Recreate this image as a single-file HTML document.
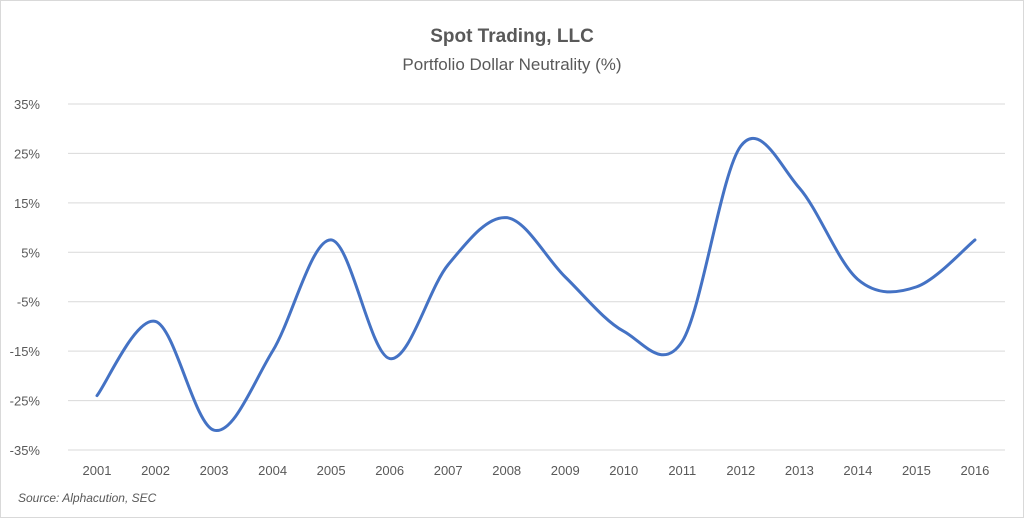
<!DOCTYPE html>
<html><head><style>
body{margin:0;background:#fff;}
svg{display:block;font-family:"Liberation Sans",sans-serif;}
</style></head><body>
<svg id="s" width="1024" height="519" viewBox="0 0 1024 519">
<rect x="0.5" y="0.5" width="1023" height="517" fill="#fff" stroke="#d9d9d9"/>
<text x="512" y="42" text-anchor="middle" font-size="19" font-weight="bold" fill="#595959">Spot Trading, LLC</text>
<text x="512" y="70" text-anchor="middle" font-size="17" fill="#595959">Portfolio Dollar Neutrality (%)</text>
<g id="grid" stroke="#d9d9d9" stroke-width="1"></g>
<g id="yl" font-size="13" fill="#595959" text-anchor="end"></g>
<g id="xl" font-size="13" fill="#595959" text-anchor="middle"></g>
<path id="ln" fill="none" stroke="#4472C4" stroke-width="3" stroke-linejoin="round" stroke-linecap="round"/>
<text x="18" y="502" font-size="12" font-style="italic" fill="#595959">Source: Alphacution, SEC</text>
</svg>
<script>
var ns="http://www.w3.org/2000/svg";
function y(v){return 450-(v+35)*49.43/10;}
function x(i){return 97+i*58.53;}
var g=document.getElementById('grid'),yl=document.getElementById('yl'),xl=document.getElementById('xl');
for(var v=-35;v<=35;v+=10){var l=document.createElementNS(ns,'line');l.setAttribute('x1',68);l.setAttribute('x2',1005);l.setAttribute('y1',y(v));l.setAttribute('y2',y(v));g.appendChild(l);
var t=document.createElementNS(ns,'text');t.setAttribute('x',40);t.setAttribute('y',y(v)+5);t.textContent=v+'%';yl.appendChild(t);}
for(var i=0;i<16;i++){var t=document.createElementNS(ns,'text');t.setAttribute('x',x(i));t.setAttribute('y',475);t.textContent=2001+i;xl.appendChild(t);}
var d=[-24,-9,-31,-15,7.5,-16.5,2.5,12,0,-11,-13,26.5,18,-0.5,-2,7.5];
var p=d.map(function(v,i){return[x(i),y(v)];});
var s='M'+p[0][0]+','+p[0][1];
for(var i=0;i<p.length-1;i++){var p0=p[i-1]||p[i],p1=p[i],p2=p[i+1],p3=p[i+2]||p2,k=1/6;
s+=' C'+(p1[0]+(p2[0]-p0[0])*k)+','+(p1[1]+(p2[1]-p0[1])*k)+' '+(p2[0]-(p3[0]-p1[0])*k)+','+(p2[1]-(p3[1]-p1[1])*k)+' '+p2[0]+','+p2[1];}
document.getElementById('ln').setAttribute('d',s);
</script>
</body></html>
